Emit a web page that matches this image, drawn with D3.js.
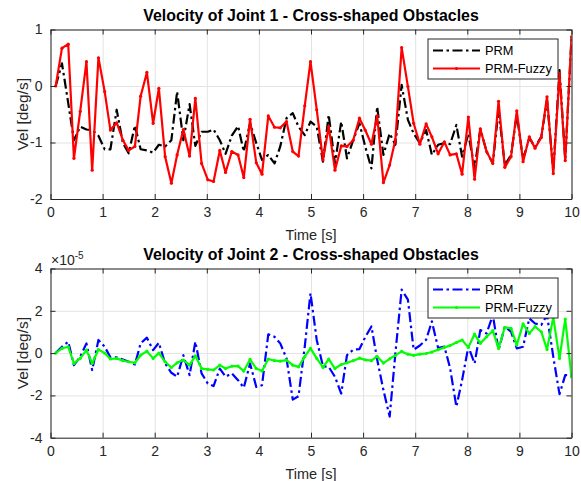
<!DOCTYPE html>
<html>
<head>
<meta charset="utf-8">
<script src="https://cdn.jsdelivr.net/npm/d3@7"></script>
<style>
  html, body { margin: 0; padding: 0; background: #fff; }
  svg { display: block; font-family: "Liberation Sans", Arial, Helvetica, sans-serif; }
</style>
</head>
<body>
<svg id="fig" width="581" height="481"></svg>
<script>
// Sample times [s]
const times = [0.10,0.22,0.34,0.45,0.57,0.69,0.80,0.92,1.04,1.15,1.27,1.39,1.50,1.62,1.73,1.85,1.97,2.08,2.20,2.32,
  2.43,2.55,2.67,2.78,2.90,3.02,3.13,3.25,3.36,3.48,3.60,3.71,3.83,3.95,4.06,4.18,4.30,4.41,4.53,4.65,
  4.76,4.88,4.99,5.11,5.23,5.34,5.46,5.58,5.69,5.81,5.93,6.04,6.16,6.27,6.39,6.51,6.62,6.74,6.86,6.97,
  7.09,7.21,7.32,7.44,7.56,7.67,7.79,7.90,8.02,8.14,8.25,8.37,8.49,8.60,8.72,8.84,8.95,9.07,9.19,9.30,
  9.42,9.53,9.65,9.77,9.88,10.00];

// Joint 1 velocity [deg/s]
const joint1PRM = [0,0.40,-0.30,-0.96,-0.72,-0.77,-0.78,-0.88,-1.12,-1.12,-0.42,-1.01,-1.19,-0.70,-1.12,-1.14,-1.18,-1.04,-1.07,-0.96,
  -0.10,-0.96,-0.32,-1.06,-0.81,-0.81,-0.77,-0.96,-1.20,-0.88,-0.71,-1.16,-0.66,-1.01,-1.31,-1.22,-1.37,-1.07,-0.57,-0.48,
  -0.72,-0.87,-0.63,-0.72,-1.34,-0.51,-1.37,-0.63,-1.28,-0.96,-0.66,-1.07,-1.46,-0.37,-1.22,-0.84,-1.04,0.02,-0.60,-0.84,
  -1.01,-0.78,-1.22,-1.04,-1.01,-1.03,-0.69,-1.25,-0.85,-1.45,-0.76,-1.16,-1.37,-0.42,-1.40,-1.22,-0.50,-1.30,-0.92,-1.08,
  -0.90,-0.25,-1.50,0.28,-1.30,0.85];
const joint1Fuzzy = [0,0.67,0.74,-1.28,-0.45,0.43,-1.49,0.50,-0.10,-0.78,-0.65,-0.96,-1.14,-1.07,-0.18,0.24,-0.66,-0.04,-1.25,-1.72,
  -1.22,-0.77,-1.24,-0.22,-1.37,-1.66,-1.69,-1.14,-1.53,-1.16,-1.22,-1.62,-0.59,-1.36,-1.56,-0.53,-0.73,-0.74,-0.63,-1.16,
  -1.24,-0.35,0.43,-0.42,-1.31,-0.72,-1.49,-1.06,-1.07,-0.96,-0.57,-0.78,-1.03,-0.53,-1.71,-1.40,-0.95,0.68,-0.01,-0.66,
  -1.03,-0.67,-0.90,-1.20,-0.99,-1.22,-1.20,-1.56,-0.55,-1.65,-0.76,-1.16,-1.37,-0.27,-1.44,-1.25,-0.44,-1.34,-0.90,-1.10,
  -0.91,-0.19,-1.55,0.22,-1.32,0.87];

// Joint 2 velocity [deg/s], in units of 1e-5
const joint2PRM = [0,0.30,0.54,-0.57,-0.17,0.46,-0.80,0.62,0.30,-0.20,-0.20,-0.30,-0.41,-0.54,0.46,0.73,0.14,0.49,-0.49,-0.93,
  -1.12,-0.10,-1.04,0.54,-0.96,-1.44,-1.56,-0.73,-1.12,-0.96,-1.28,-1.64,-0.49,-1.60,-1.52,0.89,0.77,0.46,-0.25,-2.20,
  -2.04,0.30,2.83,0.62,-0.62,-0.65,-1.12,-1.91,-0.10,0.16,0.19,0.75,1.26,-0.30,-1.75,-3.00,0,3.00,2.53,0.16,
  0.36,0.63,1.50,0.24,0.31,-0.71,-2.53,-1.28,0.30,-0.49,1.09,0.93,1.80,0.14,1.25,1.01,0.22,0.30,1.64,1.40,
  1.33,1.80,-0.17,-1.94,-1.04,-1.04];
const joint2Fuzzy = [0,0.22,0.30,-0.49,-0.25,0.14,-0.49,0.17,0,-0.28,-0.25,-0.36,-0.41,-0.46,-0.10,0.09,-0.25,0,-0.41,-0.68,
  -0.46,-0.33,-0.57,-0.13,-0.73,-0.77,-0.80,-0.57,-0.73,-0.62,-0.62,-0.85,-0.30,-0.73,-0.85,-0.28,-0.36,-0.38,-0.33,-0.57,
  -0.65,-0.17,0.22,-0.25,-0.68,-0.28,-0.73,-0.54,-0.46,-0.36,-0.24,-0.32,-0.36,-0.16,-0.47,-0.27,-0.11,0.08,-0.05,-0.11,
  -0.05,-0.02,0.05,0.16,0.27,0.36,0.50,0.62,0.27,0.90,0.46,0.77,1.06,0.22,1.22,1.17,0.38,1.38,0.93,1.25,
  1.01,0.17,1.69,-0.25,1.61,-1.12];

const xTicks = [0,1,2,3,4,5,6,7,8,9,10];
const yTicks1 = [-2,-1,0,1];
const yTicks2 = [-4,-2,0,2,4];
const seriesNames = ["PRM", "PRM-Fuzzy"];

const svg = d3.select("#fig");
const axColor = "#262626";
const gridColor = "#e3e3e3";
const dashDot = "10,3.5,2.5,3.5";
const left = 50.5, right = 571.5;

const x = d3.scaleLinear().domain([0, 10]).range([left, right]);

function panel(cfg) {
  const y = d3.scaleLinear().domain(cfg.domain).range([cfg.bottom, cfg.top]);
  const g = svg.append("g");
  const h = cfg.bottom - cfg.top;
  const w = right - left;

  // grid
  g.append("g").attr("transform", `translate(0,${cfg.bottom})`)
    .call(d3.axisBottom(x).tickValues(xTicks).tickSize(-h).tickFormat(""))
    .call(s => { s.select(".domain").remove(); s.selectAll("line").attr("stroke", gridColor).attr("stroke-width", 1); });
  g.append("g").attr("transform", `translate(${left},0)`)
    .call(d3.axisLeft(y).tickValues(cfg.yTicks).tickSize(-w).tickFormat(""))
    .call(s => { s.select(".domain").remove(); s.selectAll("line").attr("stroke", gridColor).attr("stroke-width", 1); });

  // clip
  const clipId = "clip" + cfg.id;
  svg.append("clipPath").attr("id", clipId).append("rect")
    .attr("x", left).attr("y", cfg.top).attr("width", w).attr("height", h);

  const line = d3.line().x((d, i) => x(times[i])).y(d => y(d));
  const lines = g.append("g").attr("clip-path", `url(#${clipId})`);
  lines.append("path").datum(cfg.a).attr("d", line)
    .attr("fill", "none").attr("stroke", cfg.colA).attr("stroke-width", 2.2)
    .attr("stroke-dasharray", dashDot).attr("stroke-linejoin", "round");
  lines.append("path").datum(cfg.b).attr("d", line)
    .attr("fill", "none").attr("stroke", cfg.colB).attr("stroke-width", 2.2)
    .attr("stroke-linejoin", "round");
  lines.selectAll("circle").data(cfg.b).join("circle")
    .attr("cx", (d, i) => x(times[i])).attr("cy", d => y(d)).attr("r", 1.6).attr("fill", cfg.colB);

  // axes (inward ticks on all four sides)
  const styleAxis = s => {
    s.select(".domain").attr("stroke", axColor).attr("stroke-width", 1);
    s.selectAll(".tick line").attr("stroke", axColor);
    s.selectAll("text").attr("fill", axColor).style("font-size", "14px")
      .style("font-family", '"Liberation Sans", Arial, Helvetica, sans-serif');
  };
  g.append("g").attr("transform", `translate(0,${cfg.bottom})`)
    .call(d3.axisBottom(x).tickValues(xTicks).tickSizeInner(-5).tickSizeOuter(0).tickPadding(8).tickFormat(d3.format("d")))
    .call(styleAxis);
  g.append("g").attr("transform", `translate(0,${cfg.top})`)
    .call(d3.axisTop(x).tickValues(xTicks).tickSizeInner(-5).tickSizeOuter(0).tickFormat(""))
    .call(styleAxis);
  g.append("g").attr("transform", `translate(${left},0)`)
    .call(d3.axisLeft(y).tickValues(cfg.yTicks).tickSizeInner(-5).tickSizeOuter(0).tickPadding(8).tickFormat(d3.format("d")))
    .call(styleAxis)
    .call(s => s.selectAll("text").text(d => d < 0 ? "-" + Math.abs(d) : d));
  g.append("g").attr("transform", `translate(${right},0)`)
    .call(d3.axisRight(y).tickValues(cfg.yTicks).tickSizeInner(-5).tickSizeOuter(0).tickFormat(""))
    .call(styleAxis);

  // title and labels
  g.append("text").attr("x", (left + right) / 2).attr("y", cfg.top - 9)
    .attr("text-anchor", "middle").attr("font-weight", "bold").attr("font-size", 15.9)
    .attr("fill", "#000").text(cfg.title);
  g.append("text").attr("x", (left + right) / 2).attr("y", cfg.bottom + 41)
    .attr("text-anchor", "middle").attr("font-size", 14.5).attr("fill", axColor).text("Time [s]");
  g.append("text").attr("transform", `translate(27.5,${(cfg.top + cfg.bottom) / 2}) rotate(-90)`)
    .attr("text-anchor", "middle").attr("font-size", 15.5).attr("fill", axColor).text("Vel [deg/s]");

  // legend
  const lg = g.append("g").attr("transform", `translate(428,${cfg.top + 9.5})`);
  lg.append("rect").attr("width", 130).attr("height", 40)
    .attr("fill", "#fff").attr("stroke", axColor).attr("stroke-width", 1);
  [[cfg.colA, true], [cfg.colB, false]].forEach(([c, dashed], k) => {
    const ly = 11.5 + k * 18;
    lg.append("line").attr("x1", 5).attr("x2", 52).attr("y1", ly).attr("y2", ly)
      .attr("stroke", c).attr("stroke-width", 2.2).attr("stroke-dasharray", dashed ? dashDot : null);
    if (!dashed) lg.append("circle").attr("cx", 28.5).attr("cy", ly).attr("r", 1.6).attr("fill", c);
    lg.append("text").attr("x", 57).attr("y", ly + 4.5).attr("font-size", 12.8).attr("fill", "#000").text(seriesNames[k]);
  });
  return g;
}

panel({ id: 1, top: 29.5, bottom: 199, domain: [-2, 1], yTicks: yTicks1,
  a: joint1PRM, b: joint1Fuzzy, colA: "#000000", colB: "#ff0000",
  title: "Velocity of Joint 1 - Cross-shaped Obstacles" });

const g2 = panel({ id: 2, top: 268.5, bottom: 437.7, domain: [-4, 4], yTicks: yTicks2,
  a: joint2PRM, b: joint2Fuzzy, colA: "#0000ff", colB: "#00ff00",
  title: "Velocity of Joint 2 - Cross-shaped Obstacles" });

// exponent multiplier for the second panel
const ex = g2.append("text").attr("x", 51).attr("y", 265).attr("font-size", 14).attr("fill", axColor);
ex.append("tspan").text("×10");
ex.append("tspan").attr("dy", -6).attr("font-size", 10).text("-5");
</script>
</body>
</html>
